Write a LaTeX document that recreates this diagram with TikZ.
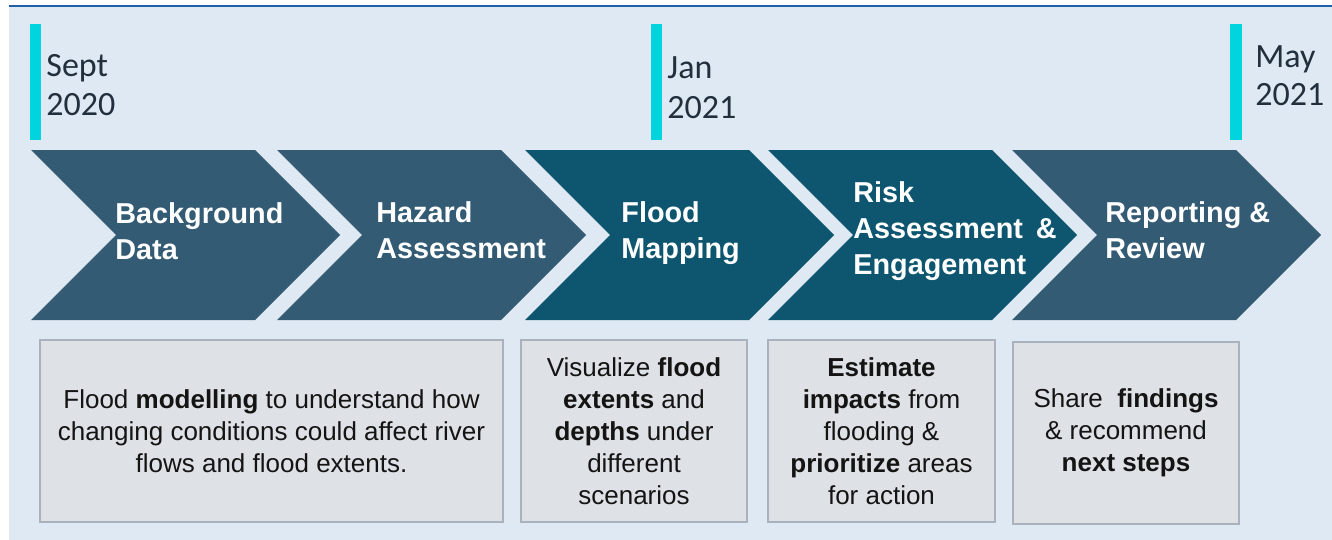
\documentclass[tikz,border=0pt]{standalone}
\usepackage{fontspec}
\setmainfont{Liberation Sans}
\newfontfamily\datefont{Carlito}
\definecolor{bgblue}{HTML}{DFE9F3}
\definecolor{topline}{HTML}{1F5FA8}
\definecolor{tick}{HTML}{00D4DE}
\definecolor{datetext}{HTML}{22303D}
\definecolor{chevA}{HTML}{345B74}
\definecolor{chevB}{HTML}{0E566F}
\definecolor{boxfill}{HTML}{DEE1E5}
\definecolor{boxline}{HTML}{AAB3BD}
\definecolor{notetext}{HTML}{141414}

\begin{document}
\begin{tikzpicture}[x=0.5pt, y=-0.5pt,
    date/.style={anchor=base west, inner sep=0pt, align=left, text=datetext,
      font=\datefont\fontsize{17}{20}\selectfont},
    stage/.style={anchor=base west, inner sep=0pt, align=left, text=white,
      font=\bfseries\fontsize{14.4}{18}\selectfont},
    note/.style={draw=boxline, fill=boxfill, line width=0.6pt, minimum height=91pt,
      inner sep=0pt, align=center, text=notetext, font=\fontsize{13}{16}\selectfont}]
	\useasboundingbox (0,0) rectangle (1332,540);
	\fill[bgblue] (9,6) rectangle (1332,540);
	\draw[topline, line width=0.8pt] (9,6) -- (1332,6);
	% milestones
	\fill[tick] (30,24) rectangle (41,140);
	\fill[tick] (651,24) rectangle (662,140);
	\fill[tick] (1230,24) rectangle (1242,140);
	\node[date] (sept) at (46,116) {Sept\\2020};
	\node[date] (jan) at (667,119) {Jan\\2021};
	\node[date, font=\datefont\fontsize{17}{19}\selectfont] (may) at (1255,105) {May\\2021};
	% chevrons
	\foreach \x/\c in {31/chevA, 277/chevA, 525/chevB, 768/chevB, 1012/chevA}
		\fill[\c] (\x,150) -- ++(224,0) -- ++(85,85) -- ++(-85,85) -- ++(-224,0) -- ++(85,-85) -- cycle;
	\node[stage] (bkg) at (115,259) {Background\\Data};
	\node[stage] (haz) at (376,258) {Hazard\\Assessment};
	\node[stage] (map) at (621,258) {Flood\\Mapping};
	\node[stage] (risk) at (853,274) {Risk\\Assessment \,\&\\Engagement};
	\node[stage] (rep) at (1105,258) {Reporting \&\\Review};
	% notes
	\node[note, minimum width=231.5pt] (n1) at (271.5,431)
		{Flood \textbf{modelling} to understand how\\changing conditions could affect river\\flows and flood extents.};
	\node[note, minimum width=113pt] (n2) at (634,431)
		{Visualize \textbf{flood}\\\textbf{extents} and\\\textbf{depths} under\\different\\scenarios};
	\node[note, minimum width=113.5pt] (n3) at (881.5,431)
		{\textbf{Estimate}\\\textbf{impacts} from\\flooding \&\\\textbf{prioritize} areas\\for action};
	\node[note, minimum width=113pt] (n4) at (1126,433)
		{Share~ \textbf{findings}\\\& recommend\\\textbf{next steps}};
\end{tikzpicture}
\end{document}
